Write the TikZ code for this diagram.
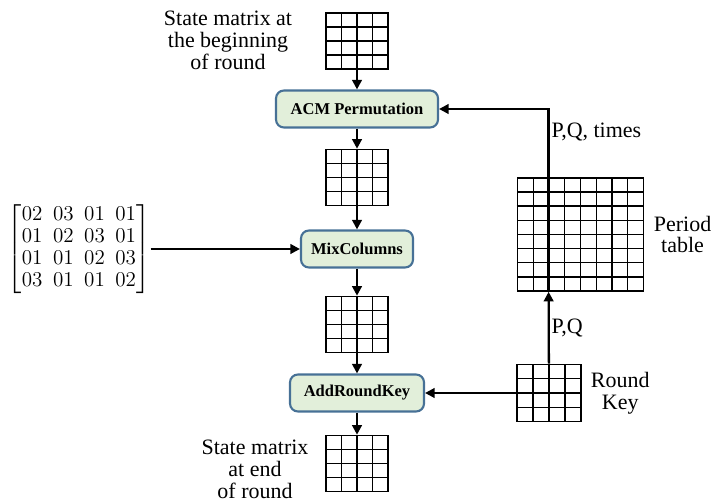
\documentclass[tikz,border=0pt]{standalone}
\usepackage{amsmath}
\usepackage{fontspec}
\setmainfont{Liberation Serif}
\usetikzlibrary{arrows.meta, positioning, calc}

\definecolor{stagefill}{RGB}{226,239,218}
\definecolor{stageline}{RGB}{71,113,150}

% inner lines of an n x n block of cells, called from a path picture
\newcommand\cellgrid[1]{%
  \pgfmathtruncatemacro\lastcell{#1-1}%
  \foreach \k in {1,...,\lastcell}{
    \draw[line width=0.8pt] ($(path picture bounding box.south west)!\k/#1!(path picture bounding box.south east)$)
      -- ($(path picture bounding box.north west)!\k/#1!(path picture bounding box.north east)$);
    \draw[line width=0.8pt] ($(path picture bounding box.south west)!\k/#1!(path picture bounding box.north west)$)
      -- ($(path picture bounding box.south east)!\k/#1!(path picture bounding box.north east)$);
  }}

\tikzset{
  state/.style={draw, line width=0.9pt, inner sep=0pt, minimum width=1.24cm, minimum height=1.12cm,
    path picture={\cellgrid{4}}},
  periods/.style={state, minimum width=2.52cm, minimum height=2.26cm, path picture={\cellgrid{8}}},
  stage/.style={draw=stageline, fill=stagefill, line width=1.2pt, rounded corners=4.5pt,
    minimum height=0.74cm, inner sep=0pt, font=\fontsize{9.4}{11}\selectfont\bfseries},
  note/.style={font=\fontsize{12.5}{12.5}\selectfont, align=center, inner sep=1pt},
  flow/.style={line width=1.3pt, -{Triangle[length=5.5pt, width=5.5pt]}},
}

\begin{document}
\begin{tikzpicture}

\useasboundingbox (0,0) rectangle (14.3,10.02);

% the round, top to bottom
\node[state] (g1) at (7.14,9.2) {};
\node[stage, minimum width=3.24cm] (acm) at (7.14,7.84) {ACM Permutation};
\node[state] (g2) at (7.14,6.47) {};
\node[stage, minimum width=2.24cm] (mix) at (7.14,5.04) {MixColumns};
\node[state] (g3) at (7.14,3.53) {};
\node[stage, minimum width=2.68cm] (ark) at (7.14,2.16) {AddRoundKey};
\node[state] (g4) at (7.14,0.75) {};

\node[note] (intext) at (4.56,9.22) {State matrix at\\the beginning\\of round};
\node[note] (outtext) at (5.1,0.64) {State matrix\\at end\\of round};

% fixed MixColumns matrix
\node[inner sep=0pt, font=\fontsize{11.5}{12.4}\selectfont] (coef) at (1.58,5.04)
  {$\setlength\arraycolsep{3pt}\begin{bmatrix}
    02 & 03 & 01 & 01\\
    01 & 02 & 03 & 01\\
    01 & 01 & 02 & 03\\
    03 & 01 & 01 & 02
  \end{bmatrix}$};

% key side: round key and period table
\node[state, minimum width=1.28cm, minimum height=1.14cm] (rk) at (10.98,2.16) {};
\node[note, right=0.14cm of rk] (rktext) {Round\\Key};
\node[periods] (pt) at (11.61,5.33) {};
\node[note, right=0.15cm of pt] (pttext) {Period\\table};

% the column that is read out of the table
\coordinate (ptin) at ($(pt.south west)!0.25!(pt.south east)$);
\coordinate (ptout) at ($(pt.north west)!0.25!(pt.north east)$);
\draw[line width=1.5pt] (ptin) -- (ptout);
\draw[line width=1.5pt] ($(pt.south west)!0.75!(pt.north west)$) -- ($(pt.south east)!0.75!(pt.north east)$);

% arrows
\draw[flow] (g1) -- (acm);
\draw[flow] (acm) -- (g2);
\draw[flow] (g2) -- (mix);
\draw[flow] (mix) -- (g3);
\draw[flow] (g3) -- (ark);
\draw[flow] (ark) -- (g4);
\draw[flow] (coef) -- (mix);
\draw[flow] (rk) -- (ark);
\draw[flow] (rk) -- (ptin) node[midway, right, note] {P,Q};
\draw[flow] (ptout) |- (acm) node[pos=0.33, right, note] {P,Q, times};

\end{tikzpicture}
\end{document}
